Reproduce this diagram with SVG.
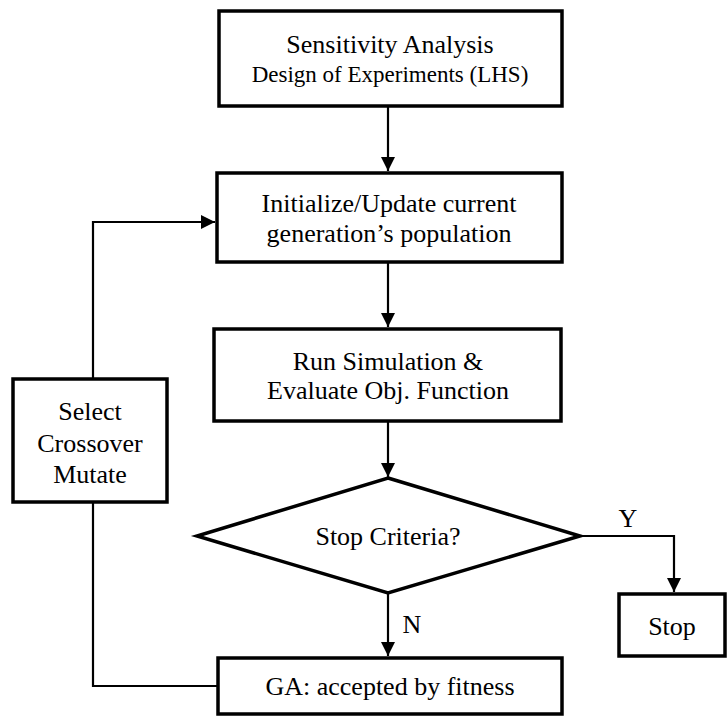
<svg xmlns="http://www.w3.org/2000/svg" width="727" height="719" viewBox="0 0 727 719">
  <defs>
    <marker id="arrow" markerUnits="userSpaceOnUse" markerWidth="14" markerHeight="14" refX="14" refY="7" orient="auto">
      <path d="M0,0 L14,7 L0,14 z" fill="#000"/>
    </marker>
  </defs>
  <style>
    .box { fill: #fff; stroke: #000; stroke-width: 3.5; }
    .conn { fill: none; stroke: #000; stroke-width: 2.2; }
    text { font-family: 'Liberation Serif', 'Times New Roman', serif; font-size: 26px; fill: #000; text-anchor: middle; }
    .small { font-size: 23px; }
  </style>
  <rect width="727" height="719" fill="#fff"/>

  <!-- connectors -->
  <g id="connectors">
    <line class="conn" x1="388" y1="107" x2="388" y2="171" marker-end="url(#arrow)"/>
    <line class="conn" x1="388" y1="263" x2="388" y2="327" marker-end="url(#arrow)"/>
    <line class="conn" x1="388" y1="422" x2="388" y2="477" marker-end="url(#arrow)"/>
    <line class="conn" x1="388" y1="593" x2="388" y2="656" marker-end="url(#arrow)"/>
    <polyline class="conn" points="580,536 674,536 674,592" marker-end="url(#arrow)"/>
    <polyline class="conn" points="217,686 93,686 93,503"/>
    <polyline class="conn" points="93,378 93,222 215,222" marker-end="url(#arrow)"/>
    <text x="412" y="633">N</text>
    <text x="628" y="527">Y</text>
  </g>

  <g id="sensitivity">
    <rect class="box" x="219" y="11" width="343" height="95"/>
    <text x="390" y="53">Sensitivity Analysis</text>
    <text class="small" x="390" y="82">Design of Experiments (LHS)</text>
  </g>

  <g id="population">
    <rect class="box" x="217" y="173" width="345" height="89"/>
    <text x="389" y="212">Initialize/Update current</text>
    <text x="389" y="242">generation’s population</text>
  </g>

  <g id="simulation">
    <rect class="box" x="214" y="329" width="347" height="92"/>
    <text x="388" y="370">Run Simulation &amp;</text>
    <text x="388" y="399">Evaluate Obj. Function</text>
  </g>

  <g id="stop-criteria">
    <polygon class="box" points="388,478 580,536 388,593 197,536"/>
    <text x="388" y="545">Stop Criteria?</text>
  </g>

  <g id="stop">
    <rect class="box" x="619" y="594" width="106" height="62"/>
    <text x="672" y="635">Stop</text>
  </g>

  <g id="ga-fitness">
    <rect class="box" x="218" y="658" width="344" height="56"/>
    <text x="390" y="695">GA: accepted by fitness</text>
  </g>

  <g id="operators">
    <rect class="box" x="13" y="379" width="154" height="123"/>
    <text x="90" y="420">Select</text>
    <text x="90" y="452">Crossover</text>
    <text x="90" y="483">Mutate</text>
  </g>
</svg>
